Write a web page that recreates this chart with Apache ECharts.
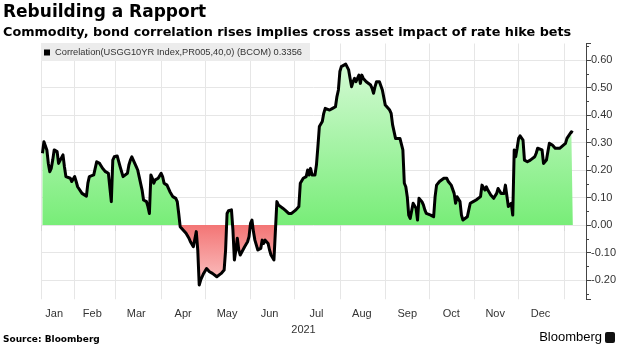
<!DOCTYPE html>
<html><head><meta charset="utf-8">
<script src="https://cdn.jsdelivr.net/npm/echarts@6/dist/echarts.min.js"></script>
<style>html,body{margin:0;padding:0;background:#fff}#c{width:620px;height:348px}</style>
</head><body><div id="c"></div>
<script>
// ---- data ----
const seriesName = 'Correlation(USGG10YR Index,PR005,40,0) (BCOM) 0.3356';
// observation dates as day offsets from 2021-01-01
const dayOffsets = [9,10,12,13,14,15,16,17,19,20,21,23,24,25,26,28,29,31,32,33,34,36,37,39,40,41,42,44,46,48,50,52,53,54,55,56,57,58,60,61,62,64,65,67,68,69,70,72,73,74,75,77,78,80,81,82,83,84,85,86,88,89,90,91,92,94,95,96,97,98,100,101,102,103,105,106,107,109,110,112,113,114,115,116,117,119,121,123,124,125,128,129,131,133,134,135,136,138,139,140,141,142,143,144,147,149,150,151,152,153,154,156,158,159,160,161,163,164,165,166,167,169,170,171,173,175,177,179,180,182,184,185,186,187,189,190,191,192,193,195,196,197,198,200,201,202,203,205,206,207,208,209,210,211,212,213,214,216,217,218,219,220,221,222,223,225,226,227,228,229,230,233,234,235,236,237,238,239,241,242,243,244,246,247,248,250,251,253,254,255,256,257,258,259,260,261,262,263,264,265,266,267,268,269,270,271,272,274,275,276,277,278,279,280,283,284,285,286,288,289,290,291,292,293,294,295,296,297,299,300,301,302,303,304,305,306,308,309,310,311,312,313,315,317,318,319,320,321,322,324,325,326,327,328,329,330,331,332,333,334,335,337,338,340,342,345,346,347,348,350,351,352,353,354,355,357,358,359,360,362,363,366,367,368,370,371];
const correlation = [0.261,0.303,0.273,0.224,0.194,0.206,0.236,0.273,0.267,0.224,0.218,0.255,0.212,0.176,0.176,0.170,0.158,0.176,0.158,0.139,0.145,0.115,0.109,0.105,0.152,0.176,0.170,0.182,0.230,0.224,0.206,0.194,0.200,0.188,0.194,0.085,0.236,0.248,0.251,0.246,0.212,0.176,0.182,0.188,0.218,0.236,0.248,0.224,0.212,0.200,0.176,0.127,0.091,0.085,0.067,0.042,0.182,0.170,0.152,0.164,0.170,0.176,0.188,0.176,0.152,0.145,0.133,0.121,0.115,0.103,0.097,0.085,0.042,-0.006,-0.018,-0.024,-0.030,-0.048,-0.061,-0.079,-0.085,-0.024,-0.091,-0.218,-0.200,-0.176,-0.158,-0.170,-0.164,-0.176,-0.188,-0.194,-0.176,-0.164,-0.091,0.042,0.052,0.055,-0.018,-0.127,-0.091,-0.048,-0.091,-0.109,-0.079,-0.061,-0.042,0.006,0.018,-0.024,-0.055,-0.091,-0.085,-0.055,-0.067,-0.055,-0.067,-0.091,-0.109,-0.115,-0.127,0.085,0.073,0.067,0.061,0.052,0.042,0.042,0.048,0.055,0.067,0.152,0.158,0.170,0.176,0.200,0.182,0.206,0.182,0.182,0.218,0.285,0.358,0.376,0.406,0.424,0.418,0.418,0.412,0.424,0.418,0.430,0.467,0.491,0.558,0.576,0.582,0.585,0.588,0.564,0.533,0.503,0.521,0.533,0.521,0.545,0.515,0.545,0.533,0.539,0.521,0.509,0.497,0.479,0.503,0.521,0.527,0.521,0.491,0.485,0.436,0.430,0.418,0.406,0.364,0.315,0.309,0.315,0.312,0.273,0.152,0.139,0.103,0.036,0.024,0.030,0.079,0.085,0.061,0.018,0.097,0.103,0.085,0.073,0.055,0.042,0.048,0.036,0.030,0.030,0.103,0.145,0.145,0.158,0.170,0.176,0.170,0.158,0.145,0.139,0.115,0.079,0.103,0.109,0.085,0.036,0.018,0.012,0.030,0.055,0.079,0.073,0.085,0.079,0.091,0.085,0.103,0.145,0.139,0.127,0.139,0.127,0.109,0.097,0.097,0.115,0.133,0.139,0.115,0.115,0.145,0.152,0.067,0.073,0.079,0.036,0.273,0.248,0.279,0.315,0.324,0.309,0.236,0.230,0.236,0.248,0.261,0.279,0.273,0.273,0.224,0.218,0.236,0.267,0.297,0.291,0.297,0.279,0.273,0.279,0.285,0.297,0.315,0.321,0.339,0.3356];
const monthNames = ['Jan','Feb','Mar','Apr','May','Jun','Jul','Aug','Sep','Oct','Nov','Dec'];
const monthLabelDates = ['2021-01-18','2021-02-13','2021-03-15','2021-04-16','2021-05-16','2021-06-14','2021-07-16','2021-08-16','2021-09-16','2021-10-16','2021-11-15','2021-12-16'];
const monthTickDates = ['2021-01-09','2021-02-01','2021-03-01','2021-04-01','2021-05-01','2021-06-01','2021-07-01','2021-08-01','2021-09-01','2021-10-01','2021-11-01','2021-12-01','2022-01-01'];
const xRange = ['2021-01-09','2022-01-16'];
const yRange = [-0.27, 0.66];
const yStep = 0.1;
const yearLabel = '2021';

// ---- build ----
const DAY = 86400000;
const T0 = Date.UTC(2021, 0, 1);
const dayOf = s => Math.round((Date.parse(s + 'T00:00:00Z') - T0) / DAY);
const points = dayOffsets.map((d, i) => [d, correlation[i]]);

const chart = echarts.init(document.getElementById('c'), null, {renderer: 'canvas'});
const LAB = 'Liberation Sans';
const option = {
  animation: false,
  backgroundColor: '#fff',
  title: [
    {text: 'Rebuilding a Rapport', left: 3, top: 4, padding: 0,
     textStyle: {fontFamily: 'DejaVu Sans', fontWeight: 'bold', fontSize: 17, color: '#000'}},
    {text: 'Commodity, bond correlation rises implies cross asset impact of rate hike bets', left: 3, top: 26, padding: 0,
     textStyle: {fontFamily: 'DejaVu Sans', fontWeight: 'bold', fontSize: 12.8, color: '#000'}},
    {text: 'Source: Bloomberg', left: 3, top: 335, padding: 0,
     textStyle: {fontFamily: 'DejaVu Sans', fontWeight: 'bold', fontSize: 9, color: '#000'}},
    {text: 'Bloomberg', right: 18, top: 331, padding: 0,
     textStyle: {fontFamily: LAB, fontWeight: 'normal', fontSize: 13, color: '#000'}}
  ],
  graphic: [
    {type: 'rect', right: 5, top: 332, shape: {width: 10, height: 11, r: 2}, style: {fill: '#111'}}
  ],
  legend: {
    left: 41, top: 43, icon: 'rect', itemWidth: 6, itemHeight: 6, itemGap: 0,
    backgroundColor: '#ececec', padding: [5, 8, 4, 3],
    textStyle: {fontFamily: LAB, fontSize: 9.3, color: '#333'},
    data: [seriesName]
  },
  grid: {left: 41, right: 34, top: 43.5, bottom: 48.75, containLabel: false},
  xAxis: {
    type: 'value', min: dayOf(xRange[0]), max: dayOf(xRange[1]),
    axisLine: {show: false},
    axisTick: {show: true, customValues: monthTickDates.map(dayOf), length: 6, lineStyle: {color: '#d8d8d8'}},
    axisLabel: {customValues: monthLabelDates.map(dayOf), hideOverlap: false,
      formatter: v => monthNames[new Date(T0 + v * DAY).getUTCMonth()],
      margin: 9, fontFamily: LAB, fontSize: 11, color: '#333'},
    splitLine: {show: true, lineStyle: {color: '#e6e6e6'}},
    name: yearLabel, nameLocation: 'middle', nameGap: 22,
    nameTextStyle: {fontFamily: LAB, fontSize: 11, color: '#333', padding: [0, 20, 0, 0]}
  },
  yAxis: {
    type: 'value', position: 'right', min: yRange[0], max: yRange[1],
    minInterval: yStep, maxInterval: yStep, splitNumber: 9,
    axisLine: {show: true, onZero: false, lineStyle: {color: '#444', width: 1}},
    axisTick: {show: true, length: 5, lineStyle: {color: '#444'}},
    minorTick: {show: true, splitNumber: 2, length: 3, lineStyle: {color: '#444'}},
    axisLabel: {showMinLabel: false, showMaxLabel: false, margin: 5,
      formatter: v => v.toFixed(2), fontFamily: LAB, fontSize: 11, color: '#333'},
    splitLine: {show: true, showMinLine: false, showMaxLine: false, lineStyle: {color: '#e6e6e6'}}
  },
  series: [{
    name: seriesName, type: 'line', data: points, symbol: 'none', smooth: false,
    lineStyle: {color: '#000', width: 3, join: 'round'},
    itemStyle: {color: '#000'},
    areaStyle: {origin: 0, color: '#8ff08f', opacity: 1},
    z: 3
  }]
};
chart.setOption(option);

// gradient fill anchored to the y scale: green above zero, red below
const yTop = chart.convertToPixel({yAxisIndex: 0}, yRange[1]);
const yZero = chart.convertToPixel({yAxisIndex: 0}, 0);
const yBot = chart.convertToPixel({yAxisIndex: 0}, yRange[0]);
const z = (yZero - yTop) / (yBot - yTop);
chart.setOption({series: [{
  areaStyle: {origin: 0, opacity: 1, color: new echarts.graphic.LinearGradient(0, yTop, 0, yBot, [
    {offset: 0, color: '#dffbdf'},
    {offset: z, color: '#78ed78'},
    {offset: z, color: '#f37575'},
    {offset: 1, color: '#fdd6d6'}
  ], true)}
}]});
</script>
</body></html>
